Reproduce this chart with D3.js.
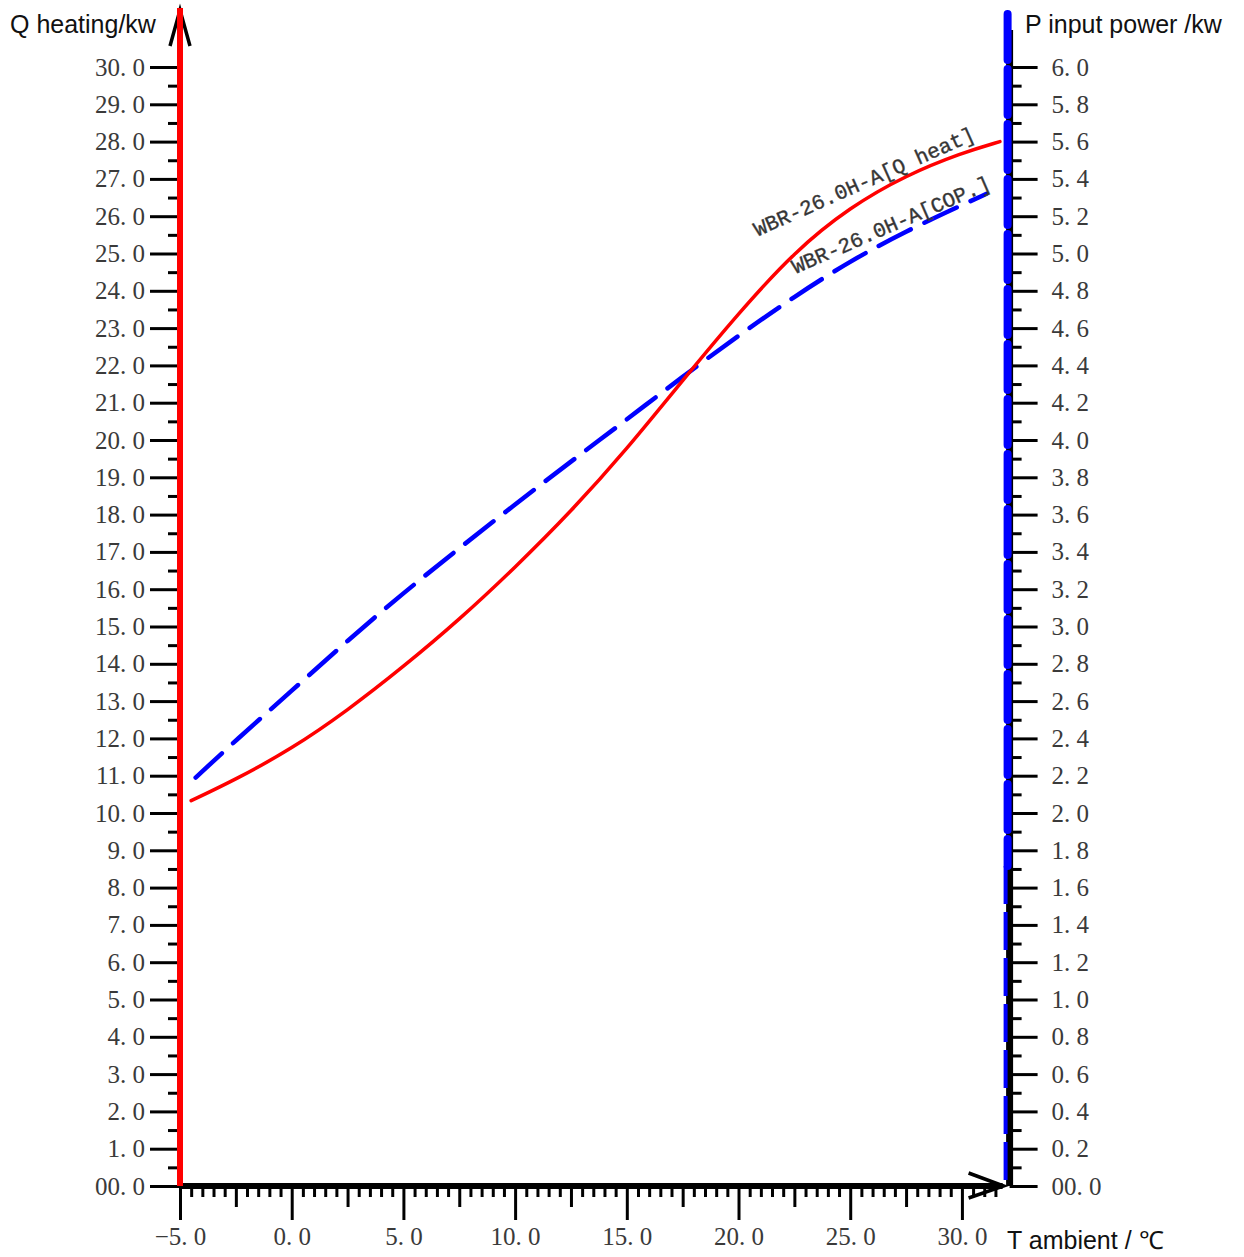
<!DOCTYPE html>
<html>
<head>
<meta charset="utf-8">
<script src="https://cdn.jsdelivr.net/npm/d3@7"></script>
<style>
  body { margin: 0; background: #fff; }
  svg { display: block; }
  .tick text { font-family: "Liberation Serif", "DejaVu Serif", serif; font-size: 25px; fill: #3a3a3a; }
  .title { font-family: "Liberation Sans", Arial, sans-serif; font-size: 25px; fill: #111; }
  .curve-label { font-family: "Liberation Mono", "DejaVu Sans Mono", monospace; font-size: 21px; fill: #333; stroke: #444; stroke-width: 0.4px; }
</style>
</head>
<body>
<div id="chart"></div>
<script>
// ambient temperature (°C) where the curves were read
var tempsQ = [-4.5, -2.5, 0, 2.5, 5, 7.5, 10, 12.5, 15, 17.5, 20, 22.5, 25, 27.5, 30, 31.7];
var qHeat  = [10.33, 10.9, 11.72, 12.75, 13.92, 15.18, 16.58, 18.08, 19.75, 21.6, 23.4, 25.05, 26.25, 27.1, 27.7, 28.0];

var tempsP = [-4.3, -2.5, 0, 2.5, 5, 7.5, 10, 12.5, 15, 17.5, 20, 22.5, 25, 27.5, 30, 31.1];
var pInput = [2.19, 2.39, 2.655, 2.925, 3.18, 3.42, 3.655, 3.885, 4.11, 4.34, 4.56, 4.77, 4.96, 5.12, 5.26, 5.32];

var xMajor = [-5, 0, 5, 10, 15, 20, 25, 30];
var leftMajor = d3.range(0, 31, 1);
var rightMajor = d3.range(0, 6.01, 0.2).map(function(d) { return +d.toFixed(1); });

var width = 1244, height = 1257;

var x = d3.scaleLinear().domain([-5, 32]).range([180, 1006.6]);
var yL = d3.scaleLinear().domain([0, 30]).range([1186, 67]);
var yR = d3.scaleLinear().domain([0, 6]).range([1186, 67]);

function fmt(v) {
  return d3.format(".1f")(v).replace(".", ". ");
}
function fmtY(v) {
  if (v === 0) return "00. 0";
  return fmt(v);
}

var svg = d3.select("#chart").append("svg")
    .attr("width", width)
    .attr("height", height);

function styleAxis(g, w) {
  g.select(".domain").remove();
  g.selectAll(".tick line").attr("stroke", "#000").attr("stroke-width", w);
}

// left axis: major + minor ticks
svg.append("g")
    .attr("transform", "translate(" + x(-5) + ",0)")
    .call(d3.axisLeft(yL).tickValues(leftMajor).tickSize(30).tickPadding(5).tickFormat(fmtY))
    .call(styleAxis, 3);
svg.append("g")
    .attr("transform", "translate(" + x(-5) + ",0)")
    .call(d3.axisLeft(yL).tickValues(d3.range(0.5, 30, 1)).tickSize(12).tickFormat(""))
    .call(styleAxis, 3);

// right axis
svg.append("g")
    .attr("transform", "translate(" + (x(32) + 3) + ",0)")
    .call(d3.axisRight(yR).tickValues(rightMajor).tickSize(28).tickPadding(14).tickFormat(fmtY))
    .call(styleAxis, 3);
svg.append("g")
    .attr("transform", "translate(" + (x(32) + 3) + ",0)")
    .call(d3.axisRight(yR).tickValues(d3.range(0.1, 6, 0.2)).tickSize(12).tickFormat(""))
    .call(styleAxis, 3);

// bottom axis
var yBase = yL(0);
svg.append("g")
    .attr("transform", "translate(0," + yBase + ")")
    .call(d3.axisBottom(x).tickValues(xMajor).tickSize(34).tickPadding(7).tickFormat(fmt))
    .call(styleAxis, 3);
svg.append("g")
    .attr("transform", "translate(0," + yBase + ")")
    .call(d3.axisBottom(x).tickValues(d3.range(-2.5, 32, 5)).tickSize(21).tickFormat(""))
    .call(styleAxis, 3);
svg.append("g")
    .attr("transform", "translate(0," + yBase + ")")
    .call(d3.axisBottom(x).tickValues(d3.range(-4.5, 31.6, 0.5).filter(function(d) {
      return Math.abs(d % 2.5) > 0.01;
    })).tickSize(11).tickFormat(""))
    .call(styleAxis, 3);

// axis lines
svg.append("line")
    .attr("x1", x(-5)).attr("x2", x(32) - 4)
    .attr("y1", yBase).attr("y2", yBase)
    .attr("stroke", "#000").attr("stroke-width", 6);
svg.append("path")
    .attr("d", "M" + (x(32) - 38) + "," + (yBase - 13) + "L" + (x(32) - 3) + "," + yBase +
               "L" + (x(32) - 38) + "," + (yBase + 12))
    .attr("fill", "none").attr("stroke", "#000").attr("stroke-width", 3.5);

svg.append("line")
    .attr("x1", x(32) + 3).attr("x2", x(32) + 3)
    .attr("y1", 30).attr("y2", yBase)
    .attr("stroke", "#000").attr("stroke-width", 7);
// blue dashed overlay on the right axis
svg.append("line")
    .attr("x1", x(32) + 1).attr("x2", x(32) + 1)
    .attr("y1", 14).attr("y2", 866)
    .attr("stroke", "#0000ff").attr("stroke-width", 8)
    .attr("stroke-linecap", "round")
    .attr("stroke-dasharray", "46,9");
svg.append("line")
    .attr("x1", x(32) - 1).attr("x2", x(32) - 1)
    .attr("y1", 866).attr("y2", yBase)
    .attr("stroke", "#0000ff").attr("stroke-width", 4)
    .attr("stroke-dasharray", "38,8");

// left axis: red line + arrow
svg.append("path")
    .attr("d", "M" + (x(-5) - 10) + ",46L" + x(-5) + ",10L" + (x(-5) + 10) + ",46")
    .attr("fill", "none").attr("stroke", "#000").attr("stroke-width", 3.5);
svg.append("line")
    .attr("x1", x(-5)).attr("x2", x(-5))
    .attr("y1", 8).attr("y2", yBase)
    .attr("stroke", "#ff0000").attr("stroke-width", 6);

// curves
var lineQ = d3.line()
    .x(function(d) { return x(d[0]); })
    .y(function(d) { return yL(d[1]); })
    .curve(d3.curveBasis);
var lineP = d3.line()
    .x(function(d) { return x(d[0]); })
    .y(function(d) { return yR(d[1]); })
    .curve(d3.curveBasis);

svg.append("path")
    .datum(d3.zip(tempsP, pInput))
    .attr("d", lineP)
    .attr("fill", "none")
    .attr("stroke", "#0000ff")
    .attr("stroke-width", 4.5)
    .attr("stroke-linecap", "round")
    .attr("stroke-dasharray", "36,15");

svg.append("path")
    .datum(d3.zip(tempsQ, qHeat))
    .attr("d", lineQ)
    .attr("fill", "none")
    .attr("stroke", "#ff0000")
    .attr("stroke-width", 3.5)
    .attr("stroke-linecap", "round");

// curve labels
svg.append("text")
    .attr("class", "curve-label")
    .attr("transform", "translate(" + x(20.85) + "," + yL(25.45) + ") rotate(-24)")
    .text("WBR-26.0H-A[Q heat]");
svg.append("text")
    .attr("class", "curve-label")
    .attr("transform", "translate(" + x(22.55) + "," + yL(24.45) + ") rotate(-23.5)")
    .text("WBR-26.0H-A[COP.]");

// axis titles
svg.append("text").attr("class", "title")
    .attr("x", 10).attr("y", 33)
    .text("Q heating/kw");
svg.append("text").attr("class", "title")
    .attr("x", 1025).attr("y", 33)
    .text("P input power /kw");
svg.append("text").attr("class", "title")
    .attr("x", 1007).attr("y", 1249)
    .text("T ambient / ℃");
</script>
</body>
</html>
